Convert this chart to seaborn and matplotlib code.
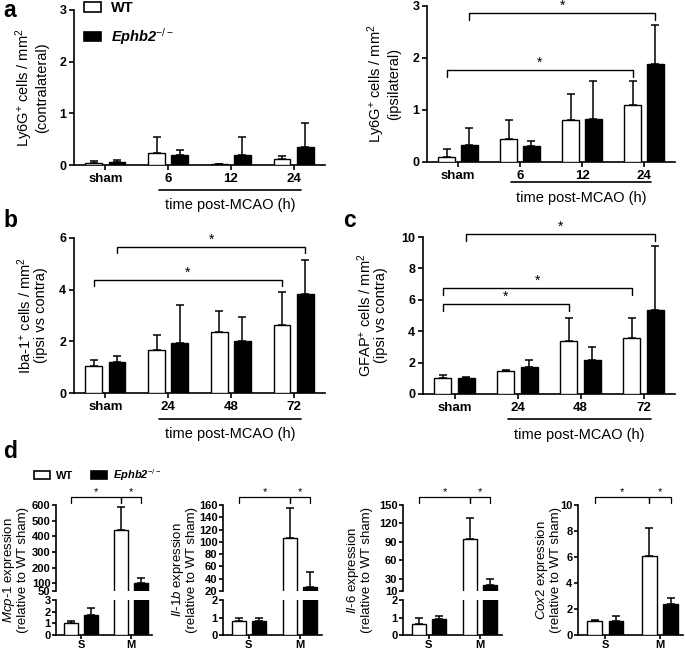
import numpy as np
import pandas as pd
import seaborn as sns
import matplotlib.pyplot as plt
import matplotlib.transforms as mtransforms
from matplotlib.patches import Patch

sns.set_theme(style="ticks", rc={
    "axes.edgecolor": "black", "xtick.color": "black", "ytick.color": "black",
    "text.color": "black", "axes.labelcolor": "black",
})
plt.rcParams["font.family"] = ["Liberation Sans", "DejaVu Sans"]
plt.rcParams["mathtext.fontset"] = "custom"
plt.rcParams["mathtext.rm"] = "Liberation Sans"
plt.rcParams["mathtext.it"] = "Liberation Sans:italic"
plt.rcParams["mathtext.bf"] = "Liberation Sans:bold"
plt.rcParams["mathtext.bfit"] = "Liberation Sans:bold:italic"

# ------------------------------
# Data
# ------------------------------
GENOTYPES = ["WT", "KO"]
PALETTE = {"WT": "white", "KO": "black"}

# a: Ly6G+ cells, contralateral
a_times = ["sham", "6", "12", "24"]
a1_wt = [0.04, 0.24, 0.01, 0.12]
a1_wt_err = [0.03, 0.30, 0.01, 0.05]
a1_ko = [0.06, 0.20, 0.19, 0.34]
a1_ko_err = [0.04, 0.09, 0.36, 0.48]

# a: Ly6G+ cells, ipsilateral
a2_wt = [0.10, 0.45, 0.81, 1.10]
a2_wt_err = [0.15, 0.35, 0.49, 0.45]
a2_ko = [0.33, 0.30, 0.82, 1.88]
a2_ko_err = [0.32, 0.11, 0.73, 0.75]
a2_brackets = [("WT", 0, "WT", 3, 1.77), ("KO", 0, "KO", 3, 2.86)]

# b: Iba-1+ cells
bc_times = ["sham", "24", "48", "72"]
b_wt = [1.05, 1.65, 2.38, 2.63]
b_wt_err = [0.22, 0.58, 0.79, 1.29]
b_ko = [1.20, 1.92, 2.00, 3.83]
b_ko_err = [0.22, 1.50, 0.93, 1.30]
b_brackets = [("WT", 0, "WT", 3, 4.38), ("KO", 0, "KO", 3, 5.66)]

# c: GFAP+ cells
c_wt = [1.05, 1.48, 3.37, 3.55]
c_wt_err = [0.15, 0.07, 1.45, 1.28]
c_ko = [1.00, 1.75, 2.18, 5.35]
c_ko_err = [0.10, 0.43, 0.84, 4.10]
c_brackets = [("WT", 0, "WT", 2, 5.74), ("WT", 0, "WT", 3, 6.74), ("KO", 0, "KO", 3, 10.19)]

# d: gene expression, sham (S) vs MCAO (M)
d_groups = ["S", "M"]
mcp1_wt, mcp1_wt_err = [1.0, 440], [0.2, 145]
mcp1_ko, mcp1_ko_err = [1.75, 100], [0.55, 30]
il1b_wt, il1b_wt_err = [0.82, 107], [0.16, 48]
il1b_ko, il1b_ko_err = [0.80, 26], [0.18, 25]
il6_wt, il6_wt_err = [0.65, 95], [0.35, 34]
il6_ko, il6_ko_err = [0.92, 20], [0.18, 10]
cox2_wt, cox2_wt_err = [1.05, 6.1], [0.10, 2.1]
cox2_ko, cox2_ko_err = [1.10, 2.4], [0.40, 0.45]
d_brackets = [("WT", 0, "WT", 1), ("WT", 1, "KO", 1)]

W, H = 685, 652
fig = plt.figure(figsize=(W / 100, H / 100), dpi=100)


def add_ax(left, top, right, bottom):
    return fig.add_axes([left / W, 1 - bottom / H, (right - left) / W, (bottom - top) / H])


def draw_bars(ax, cats, wt, wt_err, ko, ko_err, width, gap):
    df = pd.DataFrame({
        "group": list(cats) * 2,
        "genotype": ["WT"] * len(cats) + ["KO"] * len(cats),
        "value": list(wt) + list(ko),
    })
    sns.barplot(data=df, x="group", y="value", hue="genotype", order=cats,
                hue_order=GENOTYPES, palette=PALETTE, saturation=1,
                edgecolor="black", linewidth=1.0, width=width, gap=gap,
                errorbar=None, legend=False, ax=ax, zorder=3)
    centers = {}
    for cont, vals, errs, g in zip(ax.containers, [wt, ko], [wt_err, ko_err], GENOTYPES):
        xs = [p.get_x() + p.get_width() / 2 for p in cont.patches]
        ax.errorbar(xs, vals, yerr=[np.zeros(len(vals)), errs], fmt="none",
                    ecolor="black", elinewidth=1.1, capsize=3, capthick=1.1, zorder=2)
        centers[g] = xs
    return centers


def style(ax, bottom=True):
    sns.despine(ax=ax, bottom=not bottom)
    for s in ["left", "bottom"]:
        ax.spines[s].set_linewidth(1.2)
    ax.tick_params(axis="both", width=1.2, length=3.5, pad=2)
    ax.set_xlabel("")
    ax.set_ylabel("")


def time_panel(ax, cats, wt, wt_err, ko, ko_err, ylim, yticks, ylabel, label_x,
               brackets, drop, line_y):
    centers = draw_bars(ax, cats, wt, wt_err, ko, ko_err, width=0.74, gap=0.28)
    style(ax)
    ax.set_xlim(-0.5, 3.5)
    ax.set_ylim(*ylim)
    ax.set_yticks(yticks)
    ax.set_yticklabels([str(t) for t in yticks], fontweight="bold", fontsize=9)
    ax.set_xticks(range(len(cats)))
    ax.set_xticklabels(cats, fontweight="bold", fontsize=9.5)
    pos = ax.get_position()
    fig.text(label_x / W, pos.y0 + pos.height / 2, ylabel, rotation=90, ha="center",
             va="center", fontsize=10.5, multialignment="center", linespacing=1.0)
    for g1, i1, g2, i2, y in brackets:
        x1, x2 = centers[g1][i1], centers[g2][i2]
        ax.plot([x1, x1, x2, x2], [y - drop, y, y, y - drop], color="black", lw=1.0, clip_on=False)
        ax.text((x1 + x2) / 2, y, "*", ha="center", va="bottom", fontsize=10)
    trans = mtransforms.blended_transform_factory(ax.transData, ax.transAxes)
    ax.plot([0.85, 3.12], [line_y, line_y], transform=trans, color="black", lw=1.2, clip_on=False)
    ax.text(1.985, line_y - 0.1, "time post-MCAO (h)", transform=trans,
            ha="center", va="center", fontsize=10.5)


def expr_panel(left, right, wt, wt_err, ko, ko_err, lower, upper, ylabel, label_x):
    if upper is None:
        axes = [(add_ax(left, 505, right, 635), lower)]
    else:
        axes = [(add_ax(left, 505, right, 591), upper), (add_ax(left, 600, right, 635), lower)]
    for k, (ax, (lim, ticks)) in enumerate(axes):
        centers = draw_bars(ax, d_groups, wt, wt_err, ko, ko_err, width=0.78, gap=0.3)
        last = k == len(axes) - 1
        style(ax, bottom=last)
        ax.set_xlim(-0.5, 1.42)
        ax.set_ylim(*lim)
        ax.set_yticks(ticks)
        ax.set_yticklabels([str(t) for t in ticks], fontweight="bold", fontsize=8)
        ax.tick_params(axis="y", length=3, pad=1)
        if last:
            ax.set_xticks([0, 1])
            ax.set_xticklabels(d_groups, fontweight="bold", fontsize=8)
            ax.tick_params(axis="x", length=3, pad=0.5)
        else:
            ax.set_xticks([])
        if k == 0:
            top_ax, top_centers = ax, centers
    h = top_ax.get_position().height * H
    trans = mtransforms.blended_transform_factory(top_ax.transData, top_ax.transAxes)
    yb = 1 + 8 / h
    for g1, i1, g2, i2 in d_brackets:
        x1, x2 = top_centers[g1][i1], top_centers[g2][i2]
        top_ax.plot([x1, x1, x2, x2], [yb - 6 / h, yb, yb, yb - 6 / h], transform=trans,
                    color="black", lw=0.9, clip_on=False)
        top_ax.text((x1 + x2) / 2, yb, "*", transform=trans, ha="center", va="bottom", fontsize=8)
    fig.text(label_x / W, 1 - 570 / H, ylabel, rotation=90, ha="center", va="center",
             fontsize=9.5, multialignment="center", linespacing=1.1)


# ------------------------------
# Panels a, b, c
# ------------------------------
ax_a1 = add_ax(74, 10, 325, 165)
time_panel(ax_a1, a_times, a1_wt, a1_wt_err, a1_ko, a1_ko_err, (0, 3), [0, 1, 2, 3],
           "Ly6G$^{+}$ cells / mm$^{2}$\n(contralateral)", 31, [], 0.13, -0.16)

ax_a2 = add_ax(427, 6, 675, 162)
time_panel(ax_a2, a_times, a2_wt, a2_wt_err, a2_ko, a2_ko_err, (0, 3), [0, 1, 2, 3],
           "Ly6G$^{+}$ cells / mm$^{2}$\n(ipsilateral)", 383, a2_brackets, 0.13, -0.13)

ax_b = add_ax(74, 238, 325, 393)
time_panel(ax_b, bc_times, b_wt, b_wt_err, b_ko, b_ko_err, (0, 6), [0, 2, 4, 6],
           "Iba-1$^{+}$ cells / mm$^{2}$\n(ipsi vs contra)", 32, b_brackets, 0.23, -0.165)

ax_c = add_ax(423, 237, 675, 394)
time_panel(ax_c, bc_times, c_wt, c_wt_err, c_ko, c_ko_err, (0, 10), [0, 2, 4, 6, 8, 10],
           "GFAP$^{+}$ cells / mm$^{2}$\n(ipsi vs contra)", 372, c_brackets, 0.43, -0.16)

handles = [Patch(facecolor="white", edgecolor="black", linewidth=1.2),
           Patch(facecolor="black", edgecolor="black", linewidth=1.2)]
leg_labels = ["WT", r"$\mathbfit{Ephb2}^{-/-}$"]
fig.legend(handles, leg_labels, loc="upper left", bbox_to_anchor=(84 / W, 1 - 1 / H),
           frameon=False, prop={"weight": "bold", "size": 10.5}, handlelength=1.15,
           handleheight=0.65, handletextpad=0.7, labelspacing=0.75, borderpad=0, borderaxespad=0)

# ------------------------------
# Panel d
# ------------------------------
expr_panel(56, 152, mcp1_wt, mcp1_wt_err, mcp1_ko, mcp1_ko_err,
           ((0, 3), [0, 1, 2, 3]), ((50, 600), [50, 100, 200, 300, 400, 500, 600]),
           "$\\mathit{Mcp}$-$\\mathit{1}$ expression\n(relative to WT sham)", 15)
expr_panel(223, 322, il1b_wt, il1b_wt_err, il1b_ko, il1b_ko_err,
           ((0, 2), [0, 1, 2]), ((20, 160), [20, 40, 60, 80, 100, 120, 140, 160]),
           "$\\mathit{Il}$-$\\mathit{1b}$ expression\n(relative to WT sham)", 184)
expr_panel(403, 502, il6_wt, il6_wt_err, il6_ko, il6_ko_err,
           ((0, 2), [0, 1, 2]), ((10, 150), [10, 30, 60, 90, 120, 150]),
           "$\\mathit{Il}$-$\\mathit{6}$ expression\n(relative to WT sham)", 359)
expr_panel(578, 683, cox2_wt, cox2_wt_err, cox2_ko, cox2_ko_err,
           ((0, 10), [0, 2, 4, 6, 8, 10]), None,
           "$\\mathit{Cox2}$ expression\n(relative to WT sham)", 548)

fig.legend(handles, leg_labels, loc="center left", bbox_to_anchor=(34 / W, 1 - 475 / H),
           frameon=False, prop={"weight": "bold", "size": 8}, ncol=2, handlelength=1.4,
           handleheight=0.8, handletextpad=0.6, columnspacing=1.6, borderpad=0, borderaxespad=0)

# panel letters
for letter, x, y in [("a", 3, 17), ("b", 3, 227), ("c", 343, 227), ("d", 3, 458)]:
    fig.text(x / W, 1 - y / H, letter, fontsize=16.5, fontweight="bold", va="baseline")

fig.savefig("out.png", dpi=100)
